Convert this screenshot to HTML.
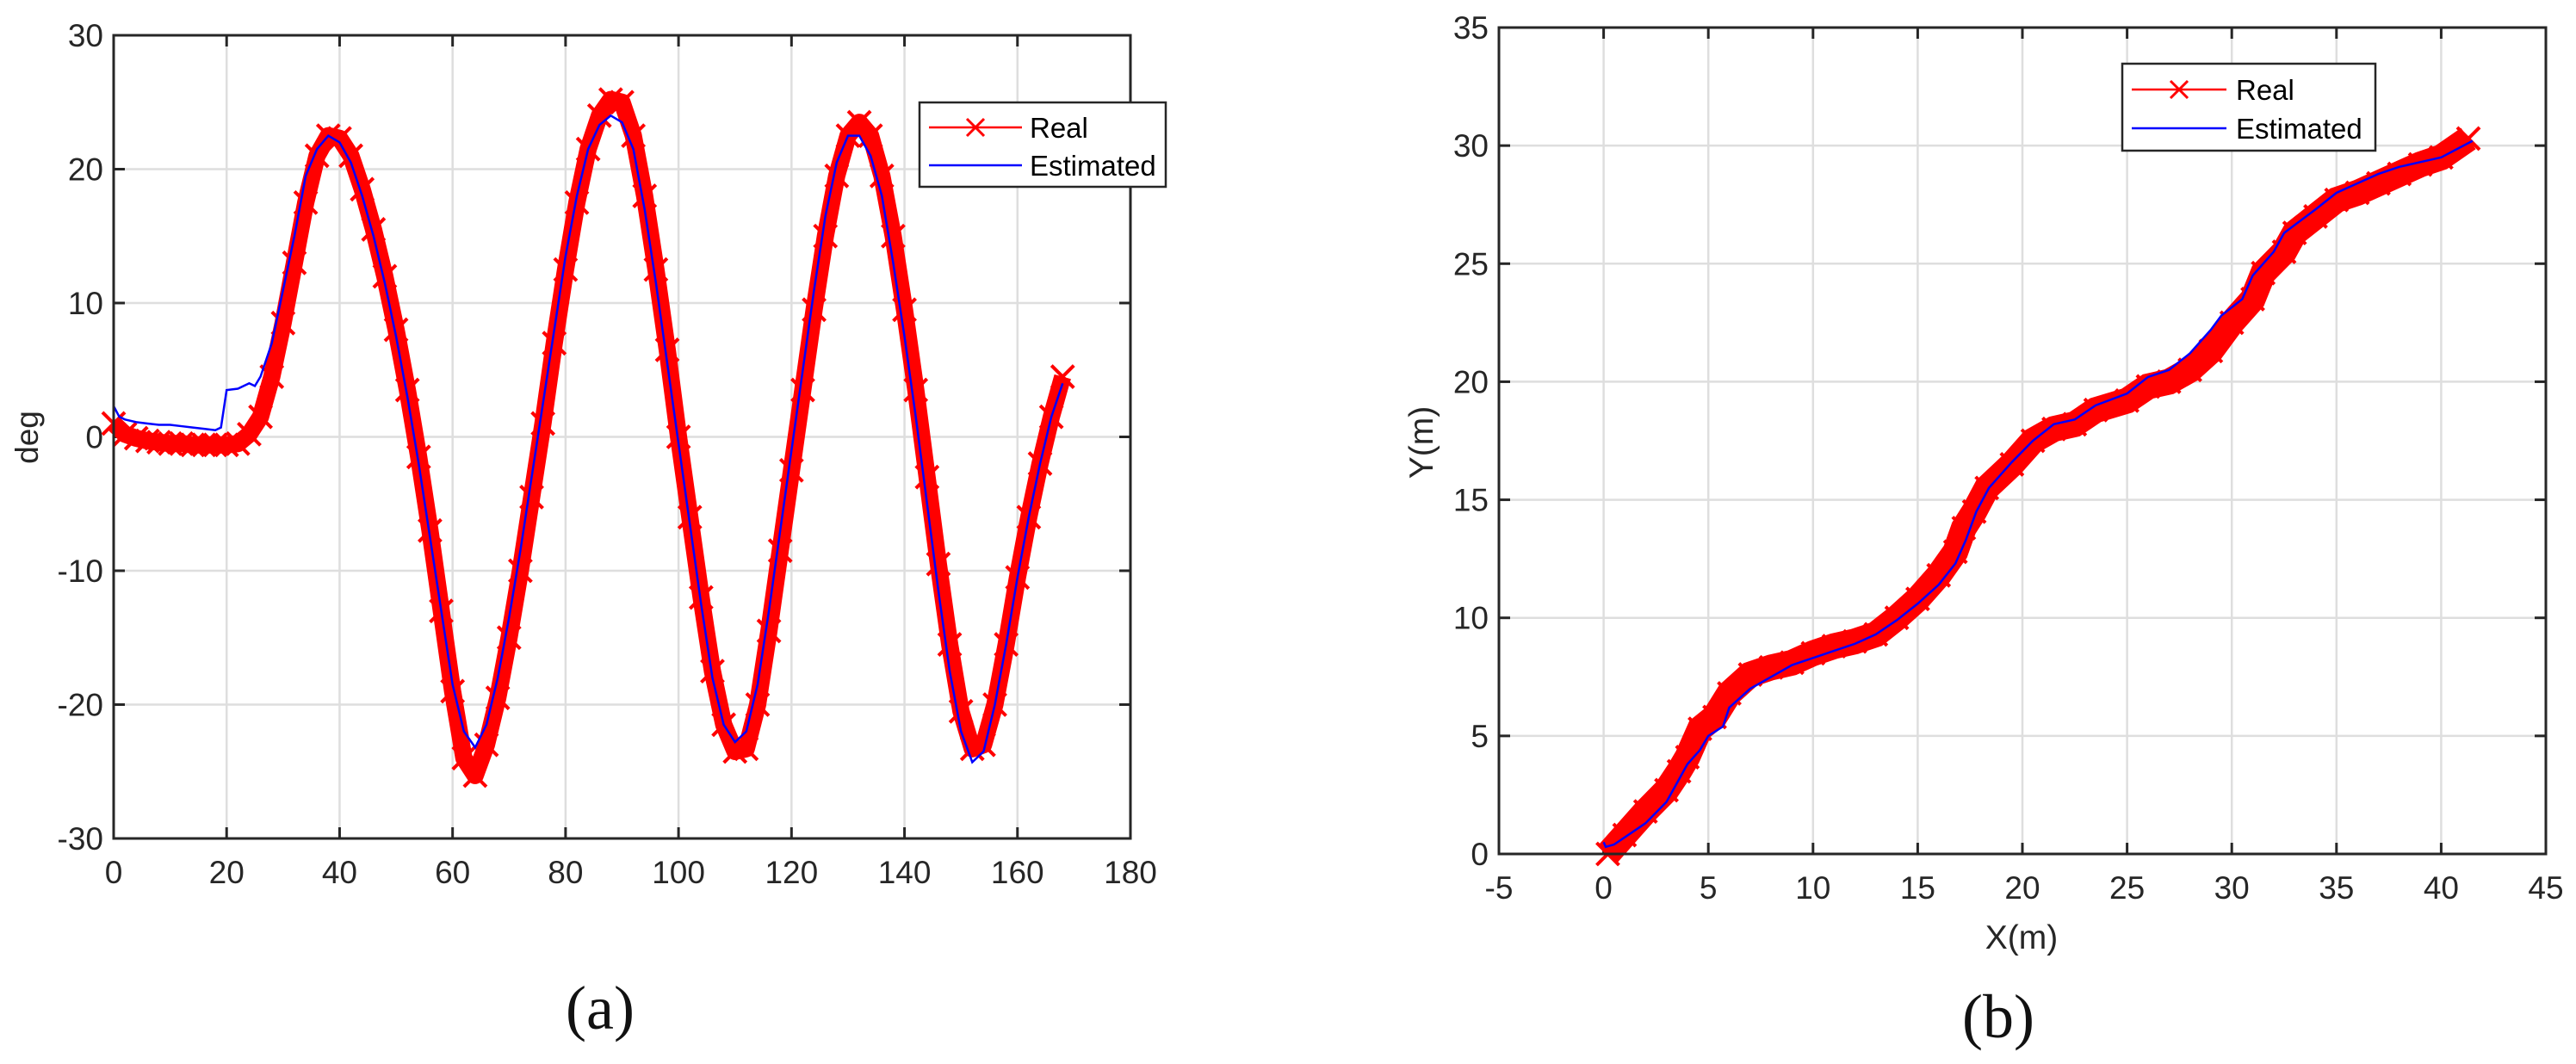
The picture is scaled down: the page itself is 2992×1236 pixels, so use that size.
<!DOCTYPE html>
<html><head><meta charset="utf-8">
<style>
html,body{margin:0;padding:0;background:#fff;}
svg{display:block;font-family:"Liberation Sans",Arial,sans-serif;}
</style></head>
<body>
<svg id="fig" width="2992" height="1236" viewBox="0 0 2992 1236" xmlns="http://www.w3.org/2000/svg">
<g id="plotA"></g>
<g id="plotB"></g>
<text x="697" y="1195" font-family="Liberation Serif,serif" font-size="72" text-anchor="middle" fill="#111">(a)</text>
<text x="2321" y="1205" font-family="Liberation Serif,serif" font-size="72" text-anchor="middle" fill="#111">(b)</text>
</svg>
<script>
// ---- Chart (a) data ----
const aRealT = [0,2,4,6,8,10,12,14,16,18,20,22,24,26,28,30,32,34,36,38,40,42,44,46,48,50,52,54,56,58,60,62,64,66,68,70,72,74,76,78,80,82,84,86,88,90,92,94,96,98,100,102,104,106,108,110,112,114,116,118,120,122,124,126,128,130,132,134,136,138,140,142,144,146,148,150,152,154,156,158,160,162,164,166,168];
const aRealV = [1,0.2,-0.1,-0.3,-0.4,-0.5,-0.5,-0.6,-0.6,-0.6,-0.6,-0.5,0.2,1.5,4.5,8.5,13,17.5,21,22.5,22.3,21,18.5,15.5,12,8,3.5,-1.5,-7,-13,-19,-24,-25.3,-23,-19.5,-15,-10,-4.5,1,7,12.5,17.5,21.5,24,25.2,25,22.5,18,12.5,6.5,0,-6,-12,-17.5,-21.5,-23.5,-23.3,-20,-14.5,-8.5,-2.5,3.5,9.5,15,19.5,22.5,23.5,22.5,19.5,15,9.5,3.5,-3,-9.5,-15.5,-20.5,-23.3,-23,-20,-15.5,-10.5,-6,-2,1.5,4.5];
const aEstT = [0,1,2,4,6,8,10,12,14,16,18,19,20,22,24,25,26,28,30,32,34,36,38,40,42,44,46,48,50,52,54,56,58,60,62,64,66,68,70,72,74,76,78,80,82,84,86,88,90,92,94,96,98,100,102,104,106,108,110,112,114,116,118,120,122,124,126,128,130,132,134,136,138,140,142,144,146,148,150,152,154,156,158,160,162,164,166,168];
const aEstV = [2.3,1.5,1.3,1.1,1.0,0.9,0.9,0.8,0.7,0.6,0.5,0.7,3.5,3.6,4,3.8,4.5,7,11,15,19.5,21.5,22.5,22,20.5,18,15,11.5,7.5,3,-2,-7.5,-13,-18.5,-22,-23.2,-21.5,-18,-13.5,-8.5,-3,2.5,8,13.5,18,21.5,23.3,24,23.5,21.5,17,11.5,5.5,-0.5,-6.5,-12.5,-18,-21.5,-22.8,-22,-18.5,-13,-7,-1,5,11,16.5,20.5,22.5,22.5,21,18,13,7.5,1.5,-5,-11.5,-17.5,-22,-24.3,-23.5,-20,-15.5,-10.5,-6,-2,1.5,4];
const aXTicks = [0,20,40,60,80,100,120,140,160,180];
const aYTicks = [-30,-20,-10,0,10,20,30];
// ---- Chart (b) data ----
const bRealX = [0.2,1,2,3,3.6,4,4.6,5.3,6,7,8,9,10,11,12,13,14,15,16,16.8,17.2,17.7,18.3,19.5,20.5,21.5,22.5,23.5,25,26,27,28,29,30,31,31.5,32.5,33,34,35,36,37,38,39,40,41.3];
const bRealY = [0,0.8,1.8,2.7,3.5,4.1,5.3,5.8,6.8,7.6,7.9,8.1,8.5,8.8,9,9.3,10,10.8,11.8,12.8,13.8,14.5,15.5,16.5,17.5,18,18.2,18.8,19.2,19.8,20,20.5,21.3,22.5,23.5,24.6,25.5,26.3,27,27.7,28,28.4,28.8,29.2,29.5,30.3];
const bEstX = [0,0.1,0.5,1,2,3,3.5,4,4.6,5,5.7,6,7,8,9,10,11,12,13,14,15,16,16.8,17.3,17.8,18.4,19.5,20.5,21.5,22.5,23.5,25,26,27,28,29,29.5,30.5,31,32,32.5,34,35,36,37,38,39,40,41.5];
const bEstY = [0.5,0.3,0.4,0.7,1.3,2.2,3,3.8,4.4,5,5.4,6.2,7,7.5,8,8.3,8.6,8.9,9.3,9.9,10.6,11.4,12.3,13.3,14.5,15.5,16.6,17.5,18.2,18.4,19,19.5,20.2,20.5,21.2,22.2,22.8,23.5,24.5,25.5,26.3,27.3,28,28.4,28.8,29.1,29.3,29.5,30.2];
const bXTicks = [-5,0,5,10,15,20,25,30,35,40,45];
const bYTicks = [0,5,10,15,20,25,30,35];

const NS = 'http://www.w3.org/2000/svg';
function mk(parent, tag, attrs){
  const e = document.createElementNS(NS, tag);
  for (const k in attrs) e.setAttribute(k, attrs[k]);
  parent.appendChild(e);
  return e;
}
function linScale(d0,d1,r0,r1){ return v => r0 + (v-d0)/(d1-d0)*(r1-r0); }

function drawAxes(g, box, xs, ys, xT, yT, prefix){
  for (const t of xT){
    const x = xs(t);
    const gl = mk(g,'line',{x1:x,y1:box.t,x2:x,y2:box.b,stroke:'#dedede','stroke-width':2.5});
    
    
    mk(g,'line',{x1:x,y1:box.b,x2:x,y2:box.b-13,stroke:'#262626','stroke-width':3});
    mk(g,'line',{x1:x,y1:box.t,x2:x,y2:box.t+13,stroke:'#262626','stroke-width':3});
    const tl = mk(g,'text',{x:x,y:box.b+52,'font-size':37,'text-anchor':'middle',fill:'#262626'});
    tl.textContent = t;
    
    
  }
  for (const t of yT){
    const y = ys(t);
    const gl = mk(g,'line',{x1:box.l,y1:y,x2:box.r,y2:y,stroke:'#dedede','stroke-width':2.5});
    
    
    mk(g,'line',{x1:box.l,y1:y,x2:box.l+13,y2:y,stroke:'#262626','stroke-width':3});
    mk(g,'line',{x1:box.r,y1:y,x2:box.r-13,y2:y,stroke:'#262626','stroke-width':3});
    const tl = mk(g,'text',{x:box.l-12,y:y+13,'font-size':37,'text-anchor':'end',fill:'#262626'});
    tl.textContent = t;
    
    
  }
}
function frame(g, box, prefix){
  const f = mk(g,'rect',{x:box.l,y:box.t,width:box.r-box.l,height:box.b-box.t,fill:'none',stroke:'#262626','stroke-width':3});
  
  
}
function crossPath(pts, s){
  let d='';
  for (const [x,y] of pts){ d += `M${x-s},${y-s}L${x+s},${y+s}M${x-s},${y+s}L${x+s},${y-s}`; }
  return d;
}
function legend(g, L, prefix){
  const r = mk(g,'rect',{x:L.x,y:L.y,width:L.w,height:L.h,fill:'#fff',stroke:'#262626','stroke-width':2.5});
  
  
  mk(g,'line',{x1:L.lx0,y1:L.y1,x2:L.lx1,y2:L.y1,stroke:'#ff0000','stroke-width':2.5});
  const cx=(L.lx0+L.lx1)/2;
  mk(g,'path',{d:crossPath([[cx,L.y1]],10),stroke:'#ff0000','stroke-width':3,fill:'none'});
  mk(g,'line',{x1:L.lx0,y1:L.y2,x2:L.lx1,y2:L.y2,stroke:'#0000ff','stroke-width':2.5});
  const t1 = mk(g,'text',{x:L.tx,y:L.y1+12,'font-size':33,fill:'#000'}); t1.textContent='Real';
  
  
  const t2 = mk(g,'text',{x:L.tx,y:L.y2+12,'font-size':33,fill:'#000'}); t2.textContent='Estimated';
  
  
}

// ---- Plot (a) ----
(function(){
  const g = document.getElementById('plotA');
  const box = {l:132,r:1313,t:41,b:974};
  const xs = linScale(0,180,box.l,box.r);
  const ys = linScale(-30,30,box.b,box.t);
  drawAxes(g, box, xs, ys, aXTicks, aYTicks, 'a-');
  const realPts = aRealT.map((t,i)=>[xs(t),ys(aRealV[i])]);
  const band = mk(g,'polyline',{points:realPts.map(p=>p.join(',')).join(' '),fill:'none',stroke:'#ff0000','stroke-width':20,'stroke-linejoin':'round'});
  
  
  const mk1 = mk(g,'path',{d:crossPath(realPts,13),stroke:'#ff0000','stroke-width':4,fill:'none'});
  
  
  const est = mk(g,'polyline',{points:aEstT.map((t,i)=>xs(t)+','+ys(aEstV[i])).join(' '),fill:'none',stroke:'#0000ff','stroke-width':2.5});
  
  
  frame(g, box, 'a-');
  legend(g,{x:1068,y:119,w:286,h:98,lx0:1079,lx1:1187,y1:148,y2:192,tx:1196},'a-');
  const yl = mk(g,'text',{x:0,y:0,'font-size':37,'text-anchor':'middle',fill:'#262626',transform:'translate(44,508) rotate(-90)'});
  yl.textContent='deg';
  
  
})();

// ---- Plot (b) ----
(function(){
  const g = document.getElementById('plotB');
  const box = {l:1741,r:2957,t:32,b:992};
  const xs = linScale(-5,45,box.l,box.r);
  const ys = linScale(0,35,box.b,box.t);
  drawAxes(g, box, xs, ys, bXTicks, bYTicks, 'b-');
  const realPts = bRealX.map((x,i)=>[xs(x),ys(bRealY[i])]);
  const band = mk(g,'polyline',{points:realPts.map(p=>p.join(',')).join(' '),fill:'none',stroke:'#ff0000','stroke-width':30,'stroke-linejoin':'miter'});
  
  
  const mk1 = mk(g,'path',{d:crossPath(realPts,13),stroke:'#ff0000','stroke-width':4,fill:'none'});
  
  
  const est = mk(g,'polyline',{points:bEstX.map((x,i)=>xs(x)+','+ys(bEstY[i])).join(' '),fill:'none',stroke:'#0000ff','stroke-width':2.5});
  
  
  frame(g, box, 'b-');
  legend(g,{x:2465,y:74,w:294,h:101,lx0:2476,lx1:2586,y1:104,y2:149,tx:2597},'b-');
  const xl = mk(g,'text',{x:2348,y:1102,'font-size':39,'text-anchor':'middle',fill:'#262626'});
  xl.textContent='X(m)';
  
  
  const yl = mk(g,'text',{x:0,y:0,'font-size':39,'text-anchor':'middle',fill:'#262626',transform:'translate(1664,514) rotate(-90)'});
  yl.textContent='Y(m)';
  
  
})();
</script>
</body></html>
